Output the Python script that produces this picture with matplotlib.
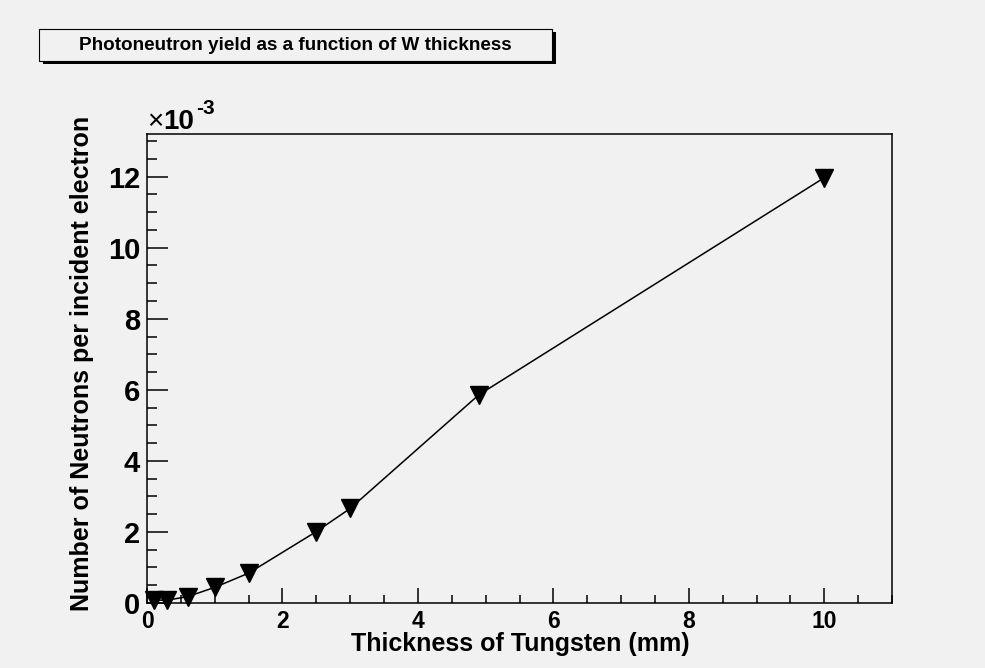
import matplotlib
matplotlib.use("Agg")
import matplotlib.pyplot as plt
from matplotlib.patches import Rectangle
from matplotlib.ticker import MultipleLocator

# espesor de tungsteno (mm) y neutrones por electron incidente (x 10^-3)
thickness = [0.1, 0.3, 0.6, 1.0, 1.5, 2.5, 3.0, 4.9, 10.0]
neutrons = [0.08, 0.08, 0.18, 0.44, 0.84, 2.01, 2.66, 5.86, 11.97]

x_ticks = [0, 2, 4, 6, 8, 10]
y_ticks = [0, 2, 4, 6, 8, 10, 12]

bg = "#f1f1f1"
W, H = 985, 668

plt.rcParams["font.family"] = ["Liberation Sans", "DejaVu Sans"]
plt.rcParams["font.weight"] = "bold"

fig = plt.figure(figsize=(W / 100, H / 100), dpi=100, facecolor=bg)

# marco del grafico en pixeles de la figura
left, right, top, bottom = 147, 892, 134, 603
ax = fig.add_axes([left / W, 1 - bottom / H, (right - left) / W, (bottom - top) / H])
ax.set_facecolor(bg)

ax.plot(thickness, neutrons, color="black", lw=1.1, marker="v", markersize=13.5,
        markerfacecolor="black", markeredgecolor="black", clip_on=False, zorder=3)

ax.set_xlim(0, 11)
ax.set_ylim(0, 13.2)
ax.set_xticks(x_ticks)
ax.set_yticks(y_ticks)
ax.xaxis.set_minor_locator(MultipleLocator(0.5))
ax.yaxis.set_minor_locator(MultipleLocator(0.5))

for s in ax.spines.values():
    s.set_linewidth(1.1)
    s.set_color("black")

ax.tick_params(axis="x", which="major", direction="in", length=11, width=1.1, labelsize=16.5, pad=5)
ax.tick_params(axis="x", which="minor", direction="in", length=5.5, width=1.1)
ax.tick_params(axis="y", which="major", direction="in", length=15, width=1.1, labelsize=21, pad=5)
ax.tick_params(axis="y", which="minor", direction="in", length=7.5, width=1.1)
ax.tick_params(top=False, right=False, which="both")
for lab in ax.get_xticklabels() + ax.get_yticklabels():
    lab.set_fontweight("bold")

# titulos de los ejes
fig.text(520 / W, 1 - 644 / H, "Thickness of Tungsten (mm)", ha="center", va="center",
         fontsize=18, fontweight="bold")
fig.text(82 / W, 1 - 363 / H, "Number of Neutrons per incident electron", ha="center",
         va="center", rotation=90, fontsize=18, fontweight="bold")

# factor de escala del eje y
fig.text(147 / W, 1 - 129 / H, "\u00d7", ha="left", va="baseline", fontsize=20,
         fontweight="normal")
fig.text(163 / W, 1 - 129 / H, "10", ha="left", va="baseline", fontsize=20, fontweight="bold")
fig.text(196 / W, 1 - 114 / H, "-3", ha="left", va="baseline", fontsize=15, fontweight="bold")

# caja del titulo con sombra
bx0, by0, bx1, by1 = 39, 29, 552, 61
shadow = Rectangle(((bx0 + 4) / W, 1 - (by1 + 3) / H), (bx1 - bx0) / W, (by1 - by0) / H,
                   transform=fig.transFigure, facecolor="black", edgecolor="none")
box = Rectangle((bx0 / W, 1 - by1 / H), (bx1 - bx0) / W, (by1 - by0) / H,
                transform=fig.transFigure, facecolor=bg, edgecolor="black", lw=0.8)
fig.patches.extend([shadow, box])
fig.text((bx0 + bx1) / 2 / W, 1 - 45 / H, "Photoneutron yield as a function of W thickness",
         ha="center", va="center", fontsize=13.6, fontweight="bold")

fig.savefig("out.png", dpi=100, facecolor=bg)
